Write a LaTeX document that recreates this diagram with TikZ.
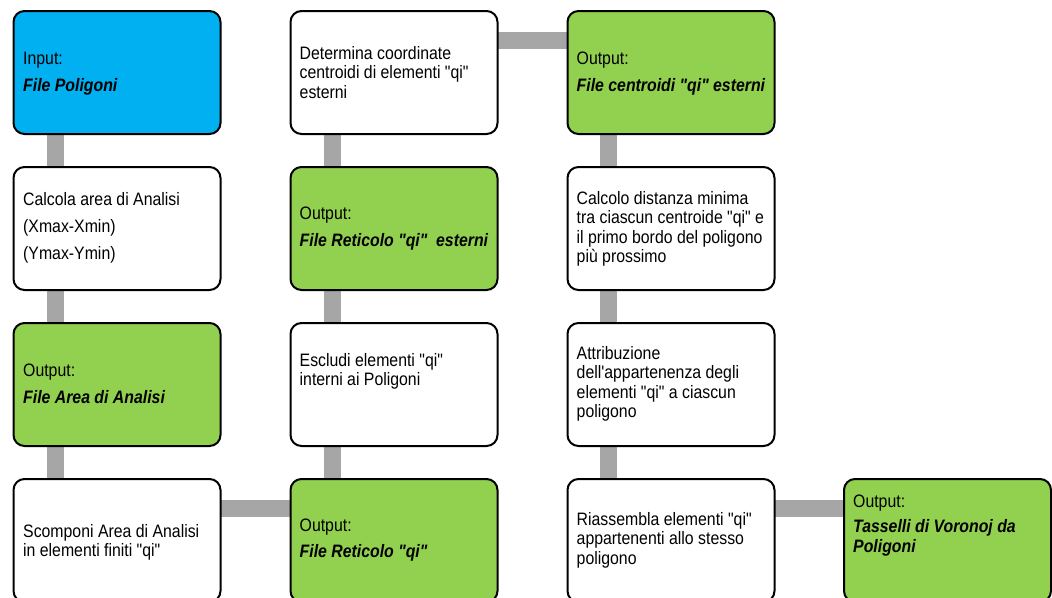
\documentclass[tikz,border=0pt]{standalone}
\usepackage{fontspec}
\setmainfont{Liberation Sans}[FakeStretch=0.88, Ligatures=TeXOff]
\usetikzlibrary{backgrounds}
\definecolor{bluefill}{HTML}{00B0F0}
\definecolor{greenfill}{HTML}{92D050}
\definecolor{conngray}{HTML}{A6A6A6}
\tikzset{
  stepbox/.style={draw=black, line width=2pt, rounded corners=11pt, fill=white,
    minimum width=207pt, minimum height=123pt, inner sep=0pt},
  bluebox/.style={stepbox, fill=bluefill},
  greenbox/.style={stepbox, fill=greenfill},
  txt/.style={anchor=north west, inner sep=0pt, align=left,
    font=\fontsize{18}{19.5}\selectfont, text=black},
  conn/.style={draw=conngray, line width=17pt}
}
\newcommand{\bi}[1]{\textbf{\textit{#1}}}
\begin{document}
\begin{tikzpicture}[x=1pt, y=-1pt]
\clip (0,0) rectangle (1052,597);
% boxes
\node[bluebox]  (b11) at (117,72.5) {};
\node[stepbox]  (b12) at (394,72.5) {};
\node[greenbox] (b13) at (671,72.5) {};
\node[stepbox]  (b21) at (117,228.5) {};
\node[greenbox] (b22) at (394,228.5) {};
\node[stepbox]  (b23) at (671,228.5) {};
\node[greenbox] (b31) at (117,384.5) {};
\node[stepbox]  (b32) at (394,384.5) {};
\node[stepbox]  (b33) at (671,384.5) {};
\node[stepbox]  (b41) at (117,540.5) {};
\node[greenbox] (b42) at (394,540.5) {};
\node[stepbox]  (b43) at (671,540.5) {};
\node[greenbox] (b44) at (947.5,540.5) {};
% texts
\node[txt] (t11) at (23,52) {Input:\\[7.5pt]\bi{File Poligoni}};
\node[txt] (t12) at (299.5,46) {Determina coordinate\\centroidi di elementi "qi"\\esterni};
\node[txt] (t13) at (576.5,52) {Output:\\[7.5pt]\bi{File centroidi "qi" esterni}};
\node[txt] (t21) at (23,192) {Calcola area di Analisi\\[7.5pt](Xmax-Xmin)\\[7.5pt](Ymax-Ymin)};
\node[txt] (t22) at (299.5,207) {Output:\\[7.5pt]\bi{File Reticolo "qi"~\ esterni}};
\node[txt] (t23) at (576.5,191) {Calcolo distanza minima\\tra ciascun centroide "qi" e\\il primo bordo del poligono\\più prossimo};
\node[txt] (t31) at (23,364) {Output:\\[7pt]\bi{File Area di Analisi}};
\node[txt] (t32) at (299.5,353) {Escludi elementi "qi"\\interni ai Poligoni};
\node[txt] (t33) at (576.5,346) {Attribuzione\\dell'appartenenza degli\\elementi "qi" a ciascun\\poligono};
\node[txt] (t41) at (23,524) {Scomponi Area di Analisi\\in elementi finiti "qi"};
\node[txt] (t42) at (299.5,519) {Output:\\[6.5pt]\bi{File Reticolo "qi"}};
\node[txt] (t43) at (576.5,512) {Riassembla elementi "qi"\\appartenenti allo stesso\\poligono};
\node[txt] (t44) at (853,495) {Output:\\[5.5pt]\bi{Tasselli di Voronoj da}\\\bi{Poligoni}};
% connectors
\begin{scope}[on background layer]
\fill[white] (0,0) rectangle (1052,597);
\draw[conn] ([xshift=-61.5pt]b11.center) -- ([xshift=-61.5pt]b21.center);
\draw[conn] ([xshift=-61.5pt]b21.center) -- ([xshift=-61.5pt]b31.center);
\draw[conn] ([xshift=-61.5pt]b31.center) -- ([xshift=-61.5pt]b41.center);
\draw[conn] ([yshift=32.5pt]b41.center) -- ([yshift=32.5pt]b42.center);
\draw[conn] ([xshift=-61.5pt]b42.center) -- ([xshift=-61.5pt]b32.center);
\draw[conn] ([xshift=-61.5pt]b32.center) -- ([xshift=-61.5pt]b22.center);
\draw[conn] ([xshift=-61.5pt]b22.center) -- ([xshift=-61.5pt]b12.center);
\draw[conn] ([yshift=32pt]b12.center) -- ([yshift=32pt]b13.center);
\draw[conn] ([xshift=-63pt]b13.center) -- ([xshift=-63pt]b23.center);
\draw[conn] ([xshift=-63pt]b23.center) -- ([xshift=-63pt]b33.center);
\draw[conn] ([xshift=-63pt]b33.center) -- ([xshift=-63pt]b43.center);
\draw[conn] ([yshift=32.5pt]b43.center) -- ([yshift=32.5pt]b44.center);
\end{scope}
\end{tikzpicture}
\end{document}
